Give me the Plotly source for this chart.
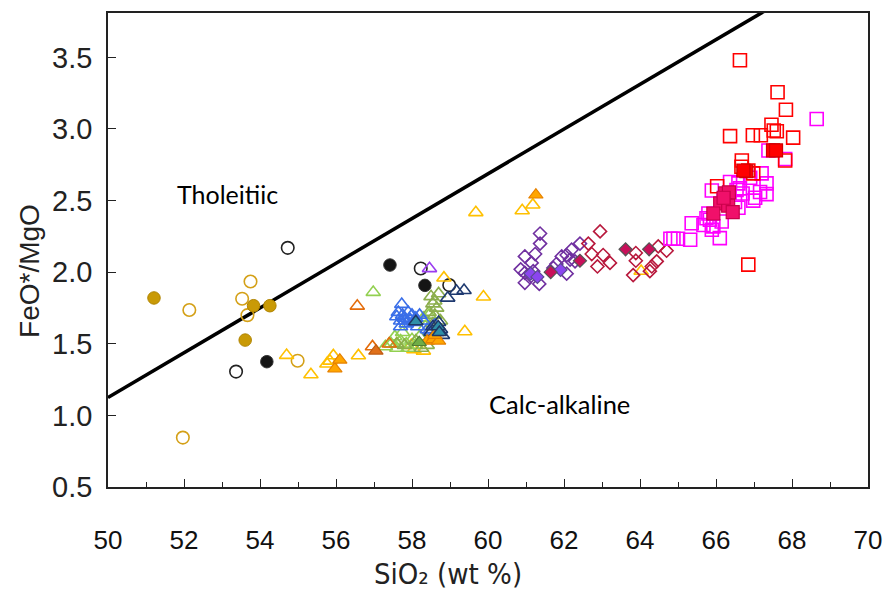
import plotly.graph_objects as go

# ---------------- data ----------------
line_x = [50, 70]
line_y = [1.125, 4.249]

gold_fc_x = [51.21, 53.61, 53.83, 54.26]
gold_fc_y = [1.82, 1.526, 1.766, 1.766]
gold_oc_x = [52.14, 53.53, 53.75, 53.67, 54.99, 51.97]
gold_oc_y = [1.736, 1.815, 1.935, 1.70, 1.382, 0.845]
black_oc_x = [54.73, 53.37, 58.23, 58.98]
black_oc_y = [2.17, 1.306, 2.026, 1.91]
black_fc_x = [54.18, 57.42, 58.34]
black_fc_y = [1.375, 2.05, 1.908]

yellow_ot_x = [54.70, 55.34, 55.76, 55.84, 55.93, 56.59, 57.98, 58.30, 58.84, 59.39, 59.88, 59.68, 60.90, 61.18, 64.03, 58.05, 57.60]
yellow_ot_y = [1.42, 1.285, 1.36, 1.38, 1.417, 1.417, 1.49, 1.45, 1.96, 1.585, 1.828, 2.417, 2.43, 2.47, 2.007, 1.46, 1.50]
orange_ft_x = [55.97, 56.10, 58.40, 58.55, 58.70, 61.26, 58.60]
orange_ft_y = [1.325, 1.387, 1.52, 1.53, 1.52, 2.54, 1.56]
dorange_ot_x = [56.56, 56.96, 57.40]
dorange_ot_y = [1.764, 1.48, 1.50]
dorange_ft_x = [57.05]
dorange_ft_y = [1.45]
lgreen_ot_x = [56.98, 57.30, 57.45, 57.60, 57.70, 57.85, 58.00, 58.10, 58.20, 57.55, 57.90, 58.35, 58.45, 58.30, 57.75]
lgreen_ot_y = [1.86, 1.48, 1.50, 1.47, 1.52, 1.50, 1.53, 1.49, 1.55, 1.55, 1.47, 1.62, 1.70, 1.68, 1.58]
olive_ot_x = [58.50, 58.55, 58.60, 58.65, 58.70, 58.45, 58.60, 57.60, 57.80, 58.10, 58.25, 58.40, 58.55, 58.75]
olive_ot_y = [1.83, 1.78, 1.80, 1.75, 1.85, 1.72, 1.70, 1.50, 1.49, 1.52, 1.47, 1.49, 1.64, 1.66]
green_ft_x = [58.19]
green_ft_y = [1.51]
blue_ot_x = [57.73, 57.64, 57.90, 57.82, 57.60, 57.70, 57.75, 57.80, 57.85, 57.95, 58.00, 58.05, 58.10, 58.15, 58.20, 58.30, 58.40, 58.47, 57.70, 58.60]
blue_ot_y = [1.776, 1.72, 1.72, 1.66, 1.69, 1.66, 1.70, 1.68, 1.64, 1.67, 1.70, 1.65, 1.68, 1.62, 1.70, 1.66, 1.60, 1.59, 1.62, 1.63]
navy_ot_x = [58.94, 59.17, 59.37, 58.55, 58.65, 58.75, 58.80, 58.50, 58.70]
navy_ot_y = [1.82, 1.868, 1.873, 1.62, 1.58, 1.60, 1.56, 1.58, 1.65]
teal_ft_x = [58.10, 58.69, 58.72]
teal_ft_y = [1.655, 1.62, 1.58]
purple_ot_x = [58.46]
purple_ot_y = [2.026]

purple_od_x = [61.37, 61.37, 60.97, 61.24, 61.15, 60.86, 60.97, 61.10, 60.97, 61.35, 61.19, 61.80, 61.94, 62.07, 61.72, 62.07, 62.20, 62.42, 62.29, 62.16]
purple_od_y = [2.27, 2.20, 2.11, 2.127, 2.065, 2.02, 1.995, 1.965, 1.926, 1.918, 2.007, 2.057, 2.11, 2.12, 2.03, 1.99, 2.157, 2.20, 2.076, 2.088]
violet_fd_x = [61.12, 61.30, 61.91]
violet_fd_y = [1.99, 1.967, 2.016]
crimson_od_x = [62.64, 62.95, 62.73, 63.03, 62.88, 63.21, 63.89, 63.89, 63.82, 64.48, 64.70, 64.44, 64.31, 64.26]
crimson_od_y = [2.20, 2.285, 2.127, 2.12, 2.04, 2.065, 2.134, 2.08, 1.98, 2.18, 2.15, 2.076, 2.04, 2.007]
crimson_fd_x = [61.65, 62.42, 63.62, 64.24]
crimson_fd_y = [2.00, 2.08, 2.16, 2.16]

red_os_x = [66.63, 67.62, 67.84, 67.46, 67.60, 67.52, 66.37, 66.97, 67.18, 68.03, 66.68, 66.67, 66.85, 66.98, 66.03, 66.85, 67.82]
red_os_y = [3.48, 3.257, 3.134, 3.03, 2.984, 2.99, 2.95, 2.956, 2.956, 2.94, 2.78, 2.736, 2.71, 2.69, 2.60, 2.053, 2.78]
red_fs_x = [67.50, 67.58, 66.80, 66.72]
red_fs_y = [2.85, 2.85, 2.705, 2.71]
mag_os_x = [68.65, 67.38, 67.82, 67.20, 67.33, 67.33, 67.03, 65.89, 66.37, 66.59, 66.63, 66.50, 66.59, 65.80, 65.84, 65.75, 66.15, 65.36, 65.67, 65.93, 65.89, 66.10, 65.32, 64.88, 65.00, 64.80, 66.98, 67.16, 66.54, 66.70, 66.90, 66.20]
mag_os_y = [3.07, 2.85, 2.79, 2.69, 2.62, 2.545, 2.52, 2.57, 2.63, 2.62, 2.585, 2.49, 2.45, 2.41, 2.366, 2.377, 2.354, 2.342, 2.33, 2.32, 2.296, 2.238, 2.227, 2.234, 2.234, 2.234, 2.50, 2.56, 2.574, 2.55, 2.66, 2.50]
crimson_fs_x = [66.24, 66.34, 66.11, 66.32, 66.44, 65.93, 66.20]
crimson_fs_y = [2.55, 2.558, 2.48, 2.465, 2.42, 2.41, 2.52]

x_ticks = [50, 52, 54, 56, 58, 60, 62, 64, 66, 68, 70]
y_ticks = [0.5, 1.0, 1.5, 2.0, 2.5, 3.0, 3.5]
y_ticklabels = ["0.5", "1.0", "1.5", "2.0", "2.5", "3.0", "3.5"]

fig = go.Figure()

fig.add_trace(go.Scatter(x=line_x, y=line_y, mode="lines",
                         line=dict(color="black", width=3.5), hoverinfo="skip"))

def add(xs, ys, symbol, size, fill, edge, lw=1.6):
    fig.add_trace(go.Scatter(
        x=xs, y=ys, mode="markers",
        marker=dict(symbol=symbol, size=size, color=fill,
                    line=dict(color=edge, width=lw))))

W = "rgba(0,0,0,0)"
TS = 12.5
# circles
add(gold_oc_x, gold_oc_y, "circle", 12.5, W, "#d4a017")
add(black_oc_x, black_oc_y, "circle", 12.5, W, "#222222")
add(gold_fc_x, gold_fc_y, "circle", 12.5, "#c99a06", "#b08400", 1)
add(black_fc_x, black_fc_y, "circle", 12.5, "#151515", "#333333", 1)
# triangles
add(yellow_ot_x, yellow_ot_y, "triangle-up", TS, W, "#ffc000")
add(lgreen_ot_x, lgreen_ot_y, "triangle-up", TS, W, "#92d050")
add(olive_ot_x, olive_ot_y, "triangle-up", TS, W, "#8cae4c")
add(blue_ot_x, blue_ot_y, "triangle-up", TS, W, "#3a6ee8")
add(navy_ot_x, navy_ot_y, "triangle-up", TS, W, "#1f3a70")
add(dorange_ot_x, dorange_ot_y, "triangle-up", TS, W, "#e46c0a")
add(purple_ot_x, purple_ot_y, "triangle-up", TS, W, "#9a3cf0")
add(orange_ft_x, orange_ft_y, "triangle-up", TS, "#ffa600", "#e68000", 1.2)
add(dorange_ft_x, dorange_ft_y, "triangle-up", TS, "#e0701a", "#c05a10", 1.2)
add(green_ft_x, green_ft_y, "triangle-up", TS, "#70ad47", "#507e32", 1.2)
add(teal_ft_x, teal_ft_y, "triangle-up", TS, "#2e8fa8", "#1f3864", 1.5)
# diamonds
add(purple_od_x, purple_od_y, "diamond", 10, W, "#7030a0")
add(crimson_od_x, crimson_od_y, "diamond", 10, W, "#b8183c")
add(violet_fd_x, violet_fd_y, "diamond", 10, "#8b45f0", "#5a4a90", 1.2)
add(crimson_fd_x, crimson_fd_y, "diamond", 10, "#c8105a", "#555555", 1.2)
# squares
add(mag_os_x, mag_os_y, "square", 13, W, "#ff00ff")
add(red_os_x, red_os_y, "square", 13, W, "#ff0000")
add(crimson_fs_x, crimson_fs_y, "square", 13, "#f0106a", "#c8004a", 1.2)
add(red_fs_x, red_fs_y, "square", 13, "#ff0000", "#d00000", 1.2)

axis_common = dict(showline=True, linecolor="#222222", linewidth=1.5, mirror=True,
                   showgrid=False, zeroline=False, ticks="inside", tickcolor="#222222",
                   ticklen=8, tickwidth=1.3)

# page body adds an 8px offset; figure sized to compensate
OFF = 8
fig.update_layout(
    width=892 - OFF, height=590 - OFF,
    margin=dict(l=108 - OFF, r=24, t=11 - OFF, b=103, pad=0),
    paper_bgcolor="white", plot_bgcolor="white",
    showlegend=False,
    xaxis=dict(range=[50, 70], tickvals=x_ticks,
               tickfont=dict(family="Liberation Sans", size=26, color="#111111"),
               ticklabelstandoff=29,
               minor=dict(dtick=1, ticks="inside", ticklen=5, tickcolor="#222222", tickwidth=1.3),
               **axis_common),
    yaxis=dict(range=[0.5, 3.81], tickvals=y_ticks, ticktext=y_ticklabels,
               tickfont=dict(family="Liberation Sans", size=29, color="#222222"),
               ticklabelstandoff=8,
               **axis_common),
)

L, R, T, B = 108, 868, 11, 487
def ann_px(text, px, py, size, family, angle=0, color="black"):
    fig.add_annotation(x=(px - L) / (R - L), y=(B - py) / (B - T), xref="x domain", yref="y domain",
                       text=text, showarrow=False, textangle=angle,
                       xanchor="center", yanchor="middle",
                       font=dict(family=family, size=size, color=color))

ann_px("Tholeitiic", 227, 193, 25, "Lato")
ann_px("Calc-alkaline", 559, 404, 25.5, "Lato")
ann_px("FeO*/MgO", 30, 270, 28, "Liberation Sans", angle=-90, color="#222222")
ann_px("SiO₂ (wt %)", 448, 574, 29, "DejaVu Sans Condensed, DejaVu Sans", color="#222222")

fig.write_html("out.html")
